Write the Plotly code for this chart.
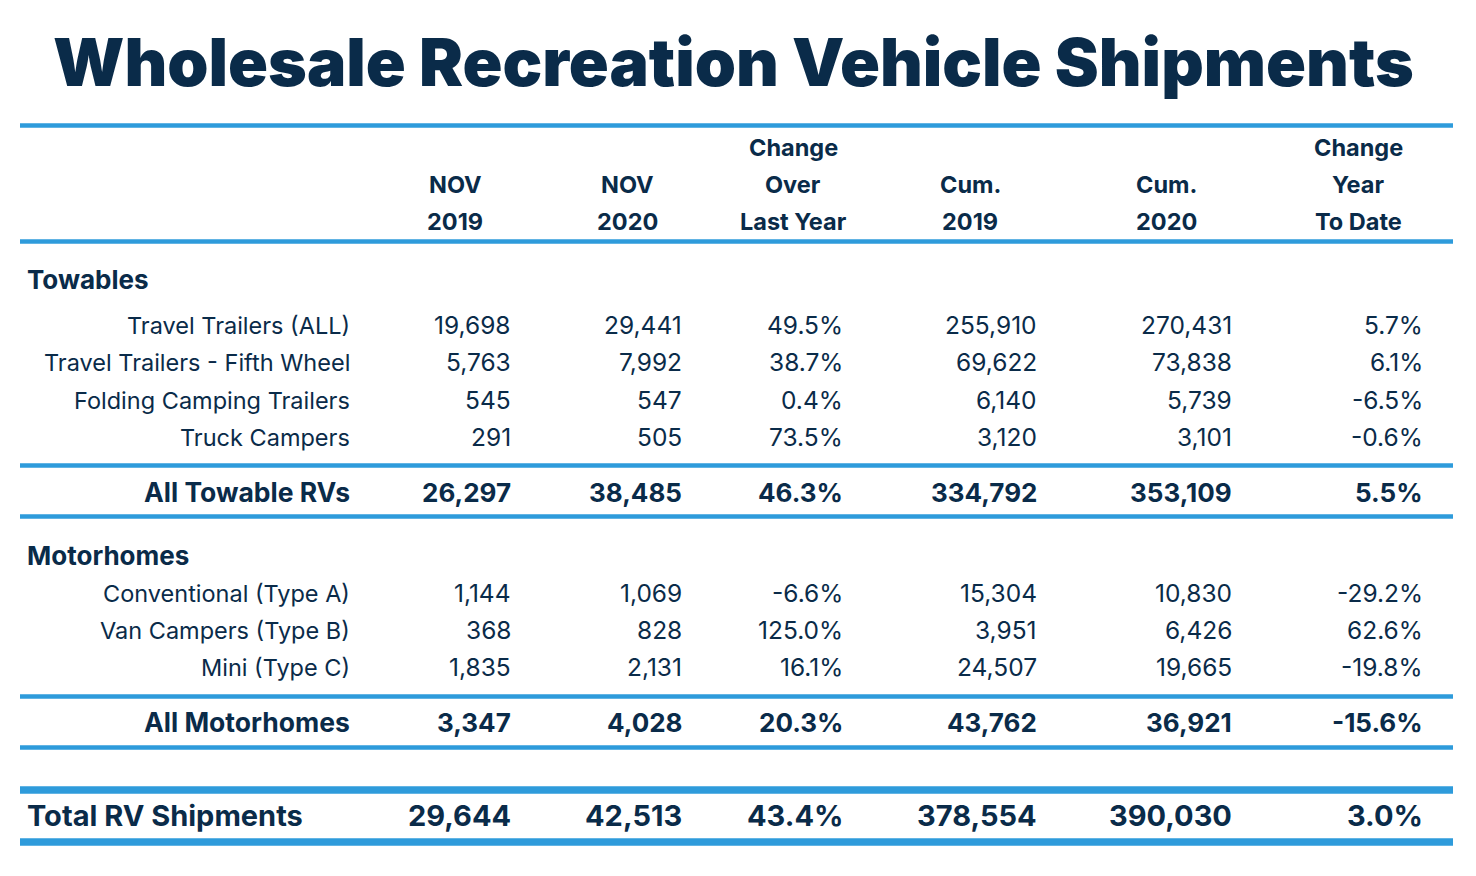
import plotly.graph_objects as go

# ---------------- data ----------------
title = "Wholesale Recreation Vehicle Shipments"
col_headers = [
    ["", "NOV", "2019"],
    ["", "NOV", "2020"],
    ["Change", "Over", "Last Year"],
    ["", "Cum.", "2019"],
    ["", "Cum.", "2020"],
    ["Change", "Year", "To Date"],
]

towable_labels = ["Travel Trailers (ALL)", "Travel Trailers - Fifth Wheel",
                  "Folding Camping Trailers", "Truck Campers"]
towable_nov2019 = [19698, 5763, 545, 291]
towable_nov2020 = [29441, 7992, 547, 505]
towable_chg = [49.5, 38.7, 0.4, 73.5]
towable_cum2019 = [255910, 69622, 6140, 3120]
towable_cum2020 = [270431, 73838, 5739, 3101]
towable_ytd = [5.7, 6.1, -6.5, -0.6]

all_towable = ["All Towable RVs", 26297, 38485, 46.3, 334792, 353109, 5.5]

motor_labels = ["Conventional (Type A)", "Van Campers (Type B)", "Mini (Type C)"]
motor_nov2019 = [1144, 368, 1835]
motor_nov2020 = [1069, 828, 2131]
motor_chg = [-6.6, 125.0, 16.1]
motor_cum2019 = [15304, 3951, 24507]
motor_cum2020 = [10830, 6426, 19665]
motor_ytd = [-29.2, 62.6, -19.8]

all_motor = ["All Motorhomes", 3347, 4028, 20.3, 43762, 36921, -15.6]

total_rv = ["Total RV Shipments", 29644, 42513, 43.4, 378554, 390030, 3.0]

# ---------------- layout constants ----------------
W, H = 1476, 876
NAVY = "#0a2b49"
BLUE = "#2e9bdb"
FONT = "Inter"

label_right = 350
col_right = [511, 682, 843, 1037, 1232, 1423]
col_center = [455, 627, 793, 970, 1166, 1358]
header_y = [147, 184, 221]

tow_y = [325, 362, 400, 437]
tow_total_y = 492
motor_y = [593, 630, 667]
motor_total_y = 722
total_y = 815

line_x0, line_x1 = 20, 1453
lines = [(125.5, 4.5), (241.5, 4.5), (465.5, 4.5), (516.5, 4.5),
         (696.5, 4.5), (747.5, 4.5), (790, 7.5), (842, 7.5)]

# font sizes: (label size, number size, bold)
STYLE_REG = (23.5, 24.5, False)
STYLE_SUB = (26.5, 26, True)
STYLE_TOT = (29, 29, True)
HEADER_SIZE = 23.5
SECTION_SIZE = 26
TITLE_SIZE = 66


def fmt_num(v):
    return f"{v:,}"


def fmt_pct(v):
    return f"{v:.1f}%"


annotations = []


def add_text(x, y, text, size, bold=False, anchor="right", weight=None):
    w = weight if weight is not None else (700 if bold else 400)
    annotations.append(dict(
        x=x, y=y, xref="x", yref="y", text=text, showarrow=False,
        xanchor=anchor, yanchor="middle", borderpad=0, borderwidth=0,
        font=dict(family=FONT, size=size, color=NAVY, weight=w),
    ))


def add_row(y, label, vals, style, label_x=label_right, label_anchor="right"):
    lsize, nsize, bold = style
    add_text(label_x, y, label, lsize, bold, label_anchor)
    formatted = [fmt_num(vals[0]), fmt_num(vals[1]), fmt_pct(vals[2]),
                 fmt_num(vals[3]), fmt_num(vals[4]), fmt_pct(vals[5])]
    for cx, t in zip(col_right, formatted):
        add_text(cx, y, t, nsize, bold)


# title
annotations.append(dict(
    x=733, y=62, xref="x", yref="y", text=title, showarrow=False,
    xanchor="center", yanchor="middle", borderpad=0, borderwidth=0,
    font=dict(family=FONT, size=TITLE_SIZE, color=NAVY, weight=900),
))

# headers
for cx, hdr in zip(col_center, col_headers):
    for hy, t in zip(header_y, hdr):
        if t:
            add_text(cx, hy, t, HEADER_SIZE, True, "center")

# sections
add_text(27, 279, "Towables", SECTION_SIZE, True, "left")
for i, lab in enumerate(towable_labels):
    add_row(tow_y[i], lab,
            [towable_nov2019[i], towable_nov2020[i], towable_chg[i],
             towable_cum2019[i], towable_cum2020[i], towable_ytd[i]], STYLE_REG)
add_row(tow_total_y, all_towable[0], all_towable[1:], STYLE_SUB)

add_text(27, 555, "Motorhomes", SECTION_SIZE, True, "left")
for i, lab in enumerate(motor_labels):
    add_row(motor_y[i], lab,
            [motor_nov2019[i], motor_nov2020[i], motor_chg[i],
             motor_cum2019[i], motor_cum2020[i], motor_ytd[i]], STYLE_REG)
add_row(motor_total_y, all_motor[0], all_motor[1:], STYLE_SUB)

add_row(total_y, total_rv[0], total_rv[1:], STYLE_TOT, label_x=27, label_anchor="left")

shapes = [dict(type="line", xref="x", yref="y", x0=line_x0, x1=line_x1,
               y0=y, y1=y, line=dict(color=BLUE, width=w)) for y, w in lines]

fig = go.Figure()
fig.add_trace(go.Scatter(x=[0, W], y=[0, H], mode="markers",
                         marker=dict(opacity=0), hoverinfo="skip", showlegend=False))
fig.update_layout(
    width=W, height=H, margin=dict(l=0, r=0, t=0, b=0),
    paper_bgcolor="white", plot_bgcolor="white",
    xaxis=dict(range=[0, W], visible=False, fixedrange=True),
    yaxis=dict(range=[H, 0], visible=False, fixedrange=True),
    annotations=annotations, shapes=shapes, showlegend=False,
)
fig.write_html("out.html", config={"displayModeBar": False},
               post_script="document.body.style.margin='0';document.body.style.overflow='hidden';")
